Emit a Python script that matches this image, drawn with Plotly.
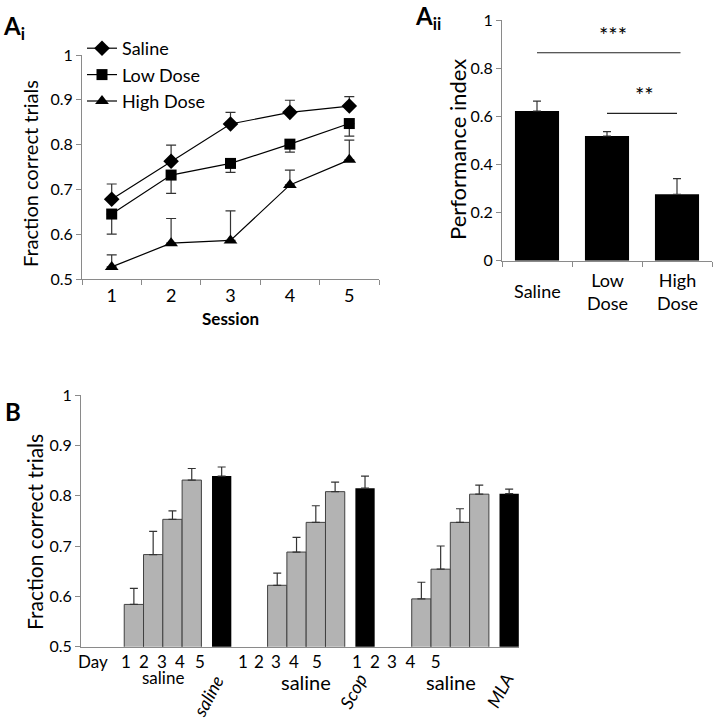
import plotly.graph_objects as go

W, H = 714, 719
FONT = "Lato"

# ---------------- data ----------------
sessions = ["1", "2", "3", "4", "5"]
saline_mean = [0.678, 0.763, 0.846, 0.872, 0.886]
saline_err = [0.034, 0.036, 0.026, 0.027, 0.021]
low_mean = [0.645, 0.732, 0.758, 0.801, 0.847]
low_err = [0.045, 0.041, 0.020, 0.018, 0.028]
high_mean = [0.527, 0.580, 0.586, 0.710, 0.766]
high_err = [0.027, 0.055, 0.066, 0.033, 0.044]

perf_groups = ["Saline", "Low Dose", "High Dose"]
perf_labels = ["Saline", "Low<br>Dose", "High<br>Dose"]
perf_mean = [0.622, 0.518, 0.276]
perf_err = [0.041, 0.018, 0.065]

b_gray = [
    [0.584, 0.683, 0.753, 0.831],
    [0.622, 0.688, 0.747, 0.808],
    [0.595, 0.654, 0.747, 0.803],
]
b_gray_err = [
    [0.032, 0.046, 0.017, 0.023],
    [0.024, 0.029, 0.033, 0.019],
    [0.033, 0.046, 0.027, 0.018],
]
b_black = [0.839, 0.815, 0.804]
b_black_err = [0.018, 0.024, 0.009]
b_black_names = ["saline", "Scop", "MLA"]
b_ticktext = ["Day", "1", "2", "3", "4", "5", "1", "2", "3", "4", "5",
              "1", "2", "3", "4", "5"]

# ---------------- layout helpers ----------------
def px(x):
    return x / W

def py(y):
    return 1 - y / H

# panel B geometry (axis units = one bar width)
group_start = [2.74, 10.17, 17.64]
black_offset = 4.55
b_tickpos = [0.62, 2.33, 3.26, 4.2, 5.13, 6.17, 8.39, 9.22, 10.1, 11.04,
             12.23, 14.3, 15.23, 16.11, 17.08, 18.38]

fig = go.Figure()

AXC = "#8a8a8a"
ERRC = "#333333"

# ---------------- panel Ai ----------------
series = [
    ("Saline", saline_mean, saline_err, "diamond", 12, True),
    ("Low Dose", low_mean, low_err, "square", 11, False),
    ("High Dose", high_mean, high_err, "triangle-up", 12, True),
]
for name, m, e, sym, sz, up in series:
    if up:
        ey = dict(type="data", symmetric=False, array=e,
                  arrayminus=[0] * len(e), color=ERRC, thickness=1.2, width=5)
    else:
        ey = dict(type="data", symmetric=False, array=[0] * len(e),
                  arrayminus=e, color=ERRC, thickness=1.2, width=5)
    fig.add_trace(go.Scatter(
        x=sessions, y=m, name=name, mode="lines+markers",
        line=dict(color="black", width=1.2),
        marker=dict(symbol=sym, size=sz, color="black"),
        error_y=ey, xaxis="x", yaxis="y", showlegend=True))

# ---------------- panel Aii ----------------
fig.add_trace(go.Bar(
    x=perf_groups, y=perf_mean, width=0.63,
    marker=dict(color="black", line=dict(width=0)),
    error_y=dict(type="data", symmetric=False, array=perf_err,
                 arrayminus=[0] * 3, color=ERRC, thickness=1.2, width=4),
    xaxis="x2", yaxis="y2", showlegend=False))

# ---------------- panel B ----------------
for g in range(3):
    xs = [group_start[g] + i for i in range(4)]
    fig.add_trace(go.Bar(
        x=xs, y=b_gray[g], width=1, base=0,
        marker=dict(color="#b3b3b3", line=dict(color="#404040", width=1)),
        error_y=dict(type="data", symmetric=False, array=b_gray_err[g],
                     arrayminus=[0] * 4, color=ERRC, thickness=1.2, width=4),
        xaxis="x3", yaxis="y3", showlegend=False))
    fig.add_trace(go.Bar(
        x=[group_start[g] + black_offset], y=[b_black[g]], width=1, base=0,
        marker=dict(color="black", line=dict(width=0)),
        error_y=dict(type="data", symmetric=False, array=[b_black_err[g]],
                     arrayminus=[0], color=ERRC, thickness=1.2, width=4),
        xaxis="x3", yaxis="y3", showlegend=False))

axis_common = dict(showgrid=False, zeroline=False, showline=True,
                   linecolor=AXC, linewidth=1, ticks="outside",
                   tickcolor=AXC, ticklen=5, tickwidth=1, automargin=False,
                   tickfont=dict(family=FONT, size=16, color="black"))

annotations = []

def ann(text, x, y, size, **kw):
    d = dict(text=text, x=x, y=y, xref="paper", yref="paper",
             xanchor="center", yanchor="middle",
             showarrow=False, font=dict(family=FONT, size=size, color="black"))
    d.update(kw)
    annotations.append(d)

# panel labels
ann("<b>A<sub>i</sub></b>", px(1), py(9), 24, xanchor="left", yanchor="top")
ann("<b>A<sub>ii</sub></b>", px(413), py(-1), 24, xanchor="left", yanchor="top")
ann("<b>B</b>", px(3), py(395), 24, xanchor="left", yanchor="top")
# axis titles
ann("Fraction correct trials", px(30), py(174), 20, textangle=-90)
ann("<b>Session</b>", px(230), py(318), 17)
ann("Performance index", px(457), py(149), 22, textangle=-90)
ann("Fraction correct trials", px(34), py(532), 21, textangle=-90)
# Aii category labels
for i, lab in enumerate(perf_labels):
    ann(lab, i, py(291), 18, xref="x2")
# significance
ann("***", 1.08, 0.94, 22, xref="x2", yref="y2")
ann("**", 1.53, 0.69, 22, xref="x2", yref="y2")
# B group labels
ann("saline", 4.24, py(677), 17, xref="x3")
ann("saline", 11.65, py(682), 20, xref="x3")
ann("saline", 19.2, py(682), 20, xref="x3")
rot_pos = [(208, 696), (353, 691), (500, 690)]
for (xx, yy), name in zip(rot_pos, b_black_names):
    ann("<i>%s</i>" % name, px(xx), py(yy), 18, textangle=-62)

shapes = [
    dict(type="line", xref="x2", yref="y2", x0=0.0, x1=2.05, y0=0.864,
         y1=0.864, line=dict(color="#222", width=1.2)),
    dict(type="line", xref="x2", yref="y2", x0=1.0, x1=2.0, y0=0.612,
         y1=0.612, line=dict(color="#222", width=1.2)),
]

fig.update_layout(
    width=W, height=H, margin=dict(l=0, r=0, t=0, b=0, pad=0),
    autosize=False,
    paper_bgcolor="white", plot_bgcolor="white",
    font=dict(family=FONT, color="black"),
    barmode="overlay",
    xaxis=dict(axis_common, domain=[px(82), px(379)], type="category",
               range=[-0.5, 4.5], tickson="boundaries",
               tickfont=dict(family=FONT, size=18, color="black"),
               anchor="y"),
    yaxis=dict(axis_common, domain=[py(279), py(55)], range=[0.5, 1.0],
               dtick=0.1, tick0=0.5, anchor="x"),
    xaxis2=dict(axis_common, domain=[px(502), px(712)], type="category",
                range=[-0.5, 2.5], tickson="boundaries",
                showticklabels=False, anchor="y2"),
    yaxis2=dict(axis_common, domain=[py(260.7), py(20)], range=[0, 1.0],
                dtick=0.2, anchor="x2"),
    xaxis3=dict(axis_common, domain=[px(81), px(519)], range=[0, 22.7],
                ticks="", tickmode="array", tickvals=b_tickpos,
                ticktext=b_ticktext,
                tickfont=dict(family=FONT, size=17, color="black"),
                anchor="y3"),
    yaxis3=dict(axis_common, domain=[py(646.7), py(395)], range=[0.5, 1.0],
                dtick=0.1, tick0=0.5, anchor="x3"),
    legend=dict(x=px(82), y=py(30), xanchor="left", yanchor="top",
                bgcolor="rgba(0,0,0,0)", font=dict(family=FONT, size=18),
                tracegroupgap=0, itemwidth=30),
    annotations=annotations, shapes=shapes,
)

fig.write_html("out.html", config={"responsive": False, "displayModeBar": False},
               post_script="document.body.style.margin='0';"
                           "document.body.style.overflow='hidden';")
